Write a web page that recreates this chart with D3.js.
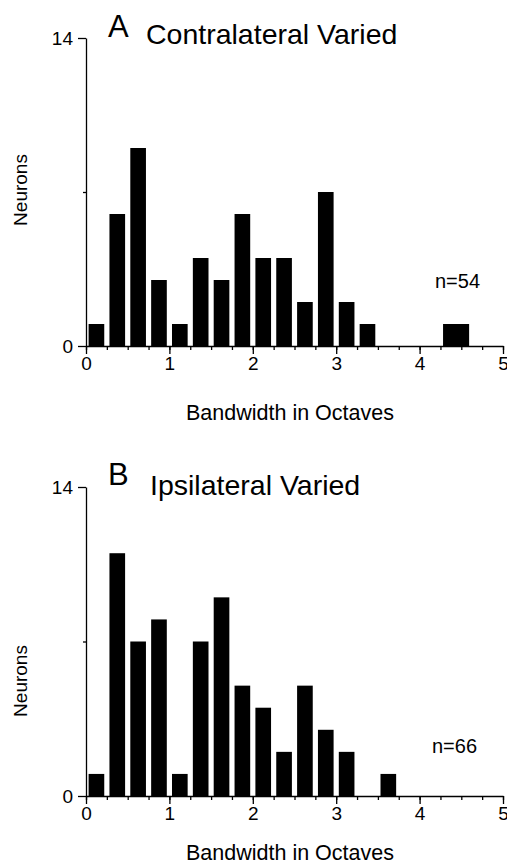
<!DOCTYPE html>
<html>
<head>
<meta charset="utf-8">
<script src="https://cdn.jsdelivr.net/npm/d3@7/dist/d3.min.js"></script>
<style>
  html, body { margin: 0; padding: 0; background: #fff; }
  svg { display: block; font-family: "Liberation Sans", Arial, Helvetica, sans-serif; }
</style>
</head>
<body>
<svg id="chart" width="507" height="864"></svg>
<script>
// Bandwidth histograms (octaves), bins of 0.25 octave
const contraBinStarts = [0, 0.25, 0.5, 0.75, 1.0, 1.25, 1.5, 1.75, 2.0, 2.25, 2.5, 2.75, 3.0, 3.25, 4.25];
const contraBinEnds   = [0.25, 0.5, 0.75, 1.0, 1.25, 1.5, 1.75, 2.0, 2.25, 2.5, 2.75, 3.0, 3.25, 3.5, 4.625];
const contraCounts    = [1, 6, 9, 3, 1, 4, 3, 6, 4, 4, 2, 7, 2, 1, 1];

const ipsiBinStarts = [0, 0.25, 0.5, 0.75, 1.0, 1.25, 1.5, 1.75, 2.0, 2.25, 2.5, 2.75, 3.0, 3.5];
const ipsiBinEnds   = [0.25, 0.5, 0.75, 1.0, 1.25, 1.5, 1.75, 2.0, 2.25, 2.5, 2.75, 3.0, 3.25, 3.75];
const ipsiCounts    = [1, 11, 7, 8, 1, 7, 9, 5, 4, 2, 5, 3, 2, 1];

const xMajorTicks = [0, 1, 2, 3, 4, 5];
const xMinorTicks = d3.range(0, 5.001, 0.25);
const yMajorTicks = [0, 14];
const yMinorTicks = [7];

const svg = d3.select("#chart");

const panels = [
  { letter: "A", title: "Contralateral Varied", n: "n=54",
    starts: contraBinStarts, ends: contraBinEnds, counts: contraCounts,
    yTop: 38, yBottom: 346, letterY: 37, titleX: 146, titleY: 44,
    nX: 435, nY: 288, yLabelY: 190, xLabelY: 420 },
  { letter: "B", title: "Ipsilateral Varied", n: "n=66",
    starts: ipsiBinStarts, ends: ipsiBinEnds, counts: ipsiCounts,
    yTop: 487, yBottom: 796, letterY: 485, titleX: 150, titleY: 495,
    nX: 432, nY: 753, yLabelY: 681, xLabelY: 860 }
];

const x = d3.scaleLinear().domain([0, 5]).range([86, 503]);
const barPad = 2.6;

panels.forEach(p => {
  const y = d3.scaleLinear().domain([0, 14]).range([p.yBottom, p.yTop]);
  const g = svg.append("g");

  // bars
  g.selectAll("rect.bar")
    .data(p.counts.map((c, i) => ({ c, s: p.starts[i], e: p.ends[i] })))
    .join("rect")
    .attr("class", "bar")
    .attr("x", d => x(d.s) + barPad)
    .attr("width", d => x(d.e) - x(d.s) - 2 * barPad)
    .attr("y", d => y(d.c))
    .attr("height", d => y(0) - y(d.c))
    .attr("fill", "#000");

  // x axis: major ticks with labels, minor ticks every 0.25
  g.append("g")
    .attr("transform", `translate(0,${p.yBottom})`)
    .call(d3.axisBottom(x).tickValues(xMajorTicks).tickSize(8).tickPadding(3)
      .tickFormat(d3.format("d")).tickSizeOuter(0));
  g.append("g")
    .attr("transform", `translate(0,${p.yBottom})`)
    .call(d3.axisBottom(x).tickValues(xMinorTicks).tickSize(4).tickFormat("").tickSizeOuter(0))
    .call(a => a.select(".domain").remove());

  // y axis
  g.append("g")
    .attr("transform", `translate(${x(0)},0)`)
    .call(d3.axisLeft(y).tickValues(yMajorTicks).tickSize(8).tickPadding(5)
      .tickFormat(d3.format("d")).tickSizeOuter(0));
  g.append("g")
    .attr("transform", `translate(${x(0)},0)`)
    .call(d3.axisLeft(y).tickValues(yMinorTicks).tickSize(3).tickFormat("").tickSizeOuter(0))
    .call(a => a.select(".domain").remove());

  g.selectAll(".domain, .tick line").attr("stroke", "#000").attr("stroke-width", 1.3);
  g.selectAll(".tick text")
    .attr("fill", "#000")
    .style("font-size", "19px")
    .style("font-family", "'Liberation Sans', Arial, sans-serif");

  // panel letter and title
  g.append("text").attr("x", 108).attr("y", p.letterY)
    .style("font-size", "31px").text(p.letter);
  g.append("text").attr("x", p.titleX).attr("y", p.titleY)
    .style("font-size", "28.5px").text(p.title);

  // sample size
  g.append("text").attr("x", p.nX).attr("y", p.nY)
    .style("font-size", "20px").text(p.n);

  // axis titles
  g.append("text")
    .attr("transform", `translate(27,${p.yLabelY}) rotate(-90)`)
    .attr("text-anchor", "middle")
    .style("font-size", "19px").text("Neurons");
  g.append("text")
    .attr("x", 290).attr("y", p.xLabelY)
    .attr("text-anchor", "middle")
    .style("font-size", "21.5px").text("Bandwidth in Octaves");
});
</script>
</body>
</html>
